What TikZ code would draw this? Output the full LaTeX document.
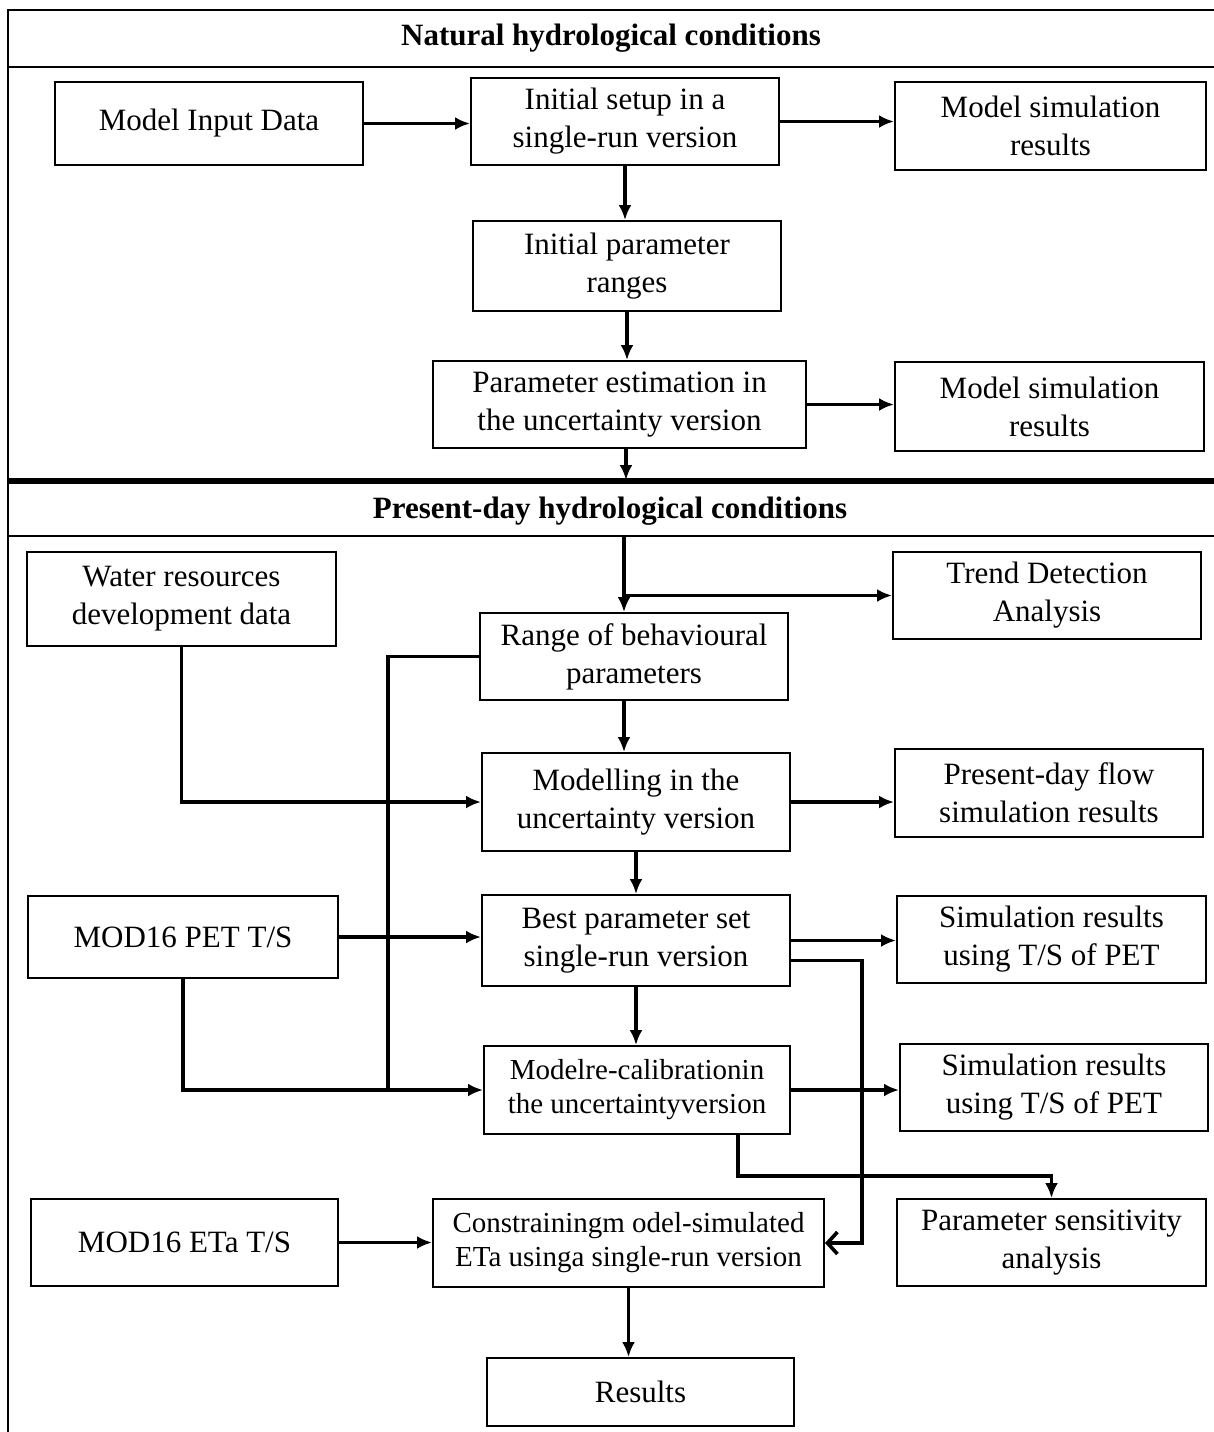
\documentclass[tikz,border=0pt]{standalone}
\usepackage{fontspec}
\setmainfont{Liberation Serif}
\usepackage{tikz}
\usetikzlibrary{arrows.meta}

\begin{document}
\begin{tikzpicture}[x=0.5pt, y=-0.5pt,
    box/.style={draw, rectangle, line width=1pt, align=center, inner sep=2pt,
        minimum width=154pt, minimum height=43.5pt, font=\fontsize{15.5}{19}\selectfont},
    small/.style={font=\fontsize{14.5}{17}\selectfont},
    title/.style={font=\bfseries\fontsize{15.5}{18}\selectfont},
    arr/.style={-{Latex[length=7.5pt, width=6.5pt]}, line width=1.8pt},
    barb/.style={-{Straight Barb[length=5pt, width=11pt]}, line width=1.8pt},
    link/.style={line width=1.8pt}]

            \useasboundingbox (0,0) rectangle (1214,1432);

            \draw[line width=1.1pt] (1214,10) -- (8,10) -- (8,1432);
            \draw[line width=1.1pt] (8,67) -- (1214,67);
            \draw[line width=2.8pt] (8,481) -- (1214,481);
            \draw[line width=1.1pt] (8,536) -- (1214,536);

            \node[title] (natural) at (611,38) {Natural hydrological conditions};
            \node[title] (present) at (610,511) {Present-day hydrological conditions};

            \coordinate (bar) at (626,480);
            \coordinate (split) at (624,536);

            \node[box, minimum height=41.5pt] (input) at (209,123.5) {Model Input Data};
            \node[box] (setup) at (625,121.5) {Initial setup in a\\single-run version};
            \node[box, minimum width=155.5pt, minimum height=44pt] (sim1) at (1050.5,126) {Model simulation\\results};
            \node[box, minimum height=45pt] (ranges) at (627,266) {Initial parameter\\ranges};
            \node[box, minimum width=186.5pt] (estim) at (619.5,404.5) {Parameter estimation in\\the uncertainty version};
            \node[box, minimum width=154.5pt, minimum height=44.5pt] (sim2) at (1049.5,406.5) {Model simulation\\results};

            \node[box, minimum width=154.5pt, minimum height=47pt] (water) at (181.5,599) {Water resources\\development data};
            \node[box] (trend) at (1047,595.5) {Trend Detection\\Analysis};
            \node[box] (behav) at (634,656.5) {Range of behavioural\\parameters};
            \node[box, minimum height=49pt] (modelling) at (636,802) {Modelling in the\\uncertainty version};
            \node[box, minimum height=44pt] (flow) at (1049,793) {Present-day flow\\simulation results};
            \node[box, minimum width=155pt, minimum height=41pt] (pet) at (183,937) {MOD16 PET T/S};
            \node[box, minimum height=45.5pt] (best) at (636,940.5) {Best parameter set\\single-run version};
            \node[box, minimum width=154.5pt] (simpet1) at (1051.5,939.5) {Simulation results\\using T/S of PET};
            \node[box, small, minimum width=153pt, minimum height=44pt] (recal) at (637,1090) {Modelre-calibrationin\\the uncertaintyversion};
            \node[box] (simpet2) at (1054,1087.5) {Simulation results\\using T/S of PET};
            \node[box, minimum width=153.5pt] (eta) at (184.5,1242.5) {MOD16 ETa T/S};
            \node[box, small, minimum width=195.5pt, minimum height=44pt] (constrain) at (628.5,1243) {Constrainingm odel-simulated\\ETa usinga single-run version};
            \node[box, minimum width=154.5pt] (sens) at (1051.5,1242.5) {Parameter sensitivity\\analysis};
            \node[box, minimum width=153.5pt, minimum height=34pt] (results) at (640.5,1392) {Results};

            \coordinate (bus) at (388,1088);
            \coordinate (loop) at (862,1100);
            \coordinate (gap) at (800,1176);

            \draw[arr] (input.east) -- (input.east -| setup.west);
            \draw[arr] (setup.east) -- (setup.east -| sim1.west);
            \draw[arr] (setup.south) -- (setup.south |- ranges.north);
            \draw[arr] (ranges.south) -- (ranges.south |- estim.north);
            \draw[arr] (estim.east) -- (estim.east -| sim2.west);
            \draw[arr] (estim.south -| bar) -- (bar);

            \draw[arr] (split) -- (split |- behav.north);
            \draw[arr] (split |- trend.west) -- (trend.west);
            \draw[arr] (behav.south -| split) -- (split |- modelling.north);
            \draw[arr] (water.south) |- (modelling.west);
            \draw[arr] (modelling.east) -- (modelling.east -| flow.west);
            \draw[arr] (modelling.south) -- (modelling.south |- best.north);
            \draw[arr] (pet.east) -- (pet.east -| best.west);
            \draw[arr] (best.east) -- (best.east -| simpet1.west);
            \draw[arr] (pet.south) |- (recal.west);
            \draw[link] (behav.west) -| (bus);
            \draw[arr] (best.south) -- (best.south |- recal.north);
            \draw[arr] (recal.east) -- (recal.east -| simpet2.west);
            \draw[barb] ([yshift=-10pt]best.east) -| (loop) |- (constrain.east);
            \draw[arr] ([xshift=50.5pt]recal.south) |- (gap) -| (sens.north);
            \draw[arr] (eta.east) -- (eta.east -| constrain.west);
            \draw[arr] (constrain.south) -- (constrain.south |- results.north);
        \end{tikzpicture}
\end{document}
